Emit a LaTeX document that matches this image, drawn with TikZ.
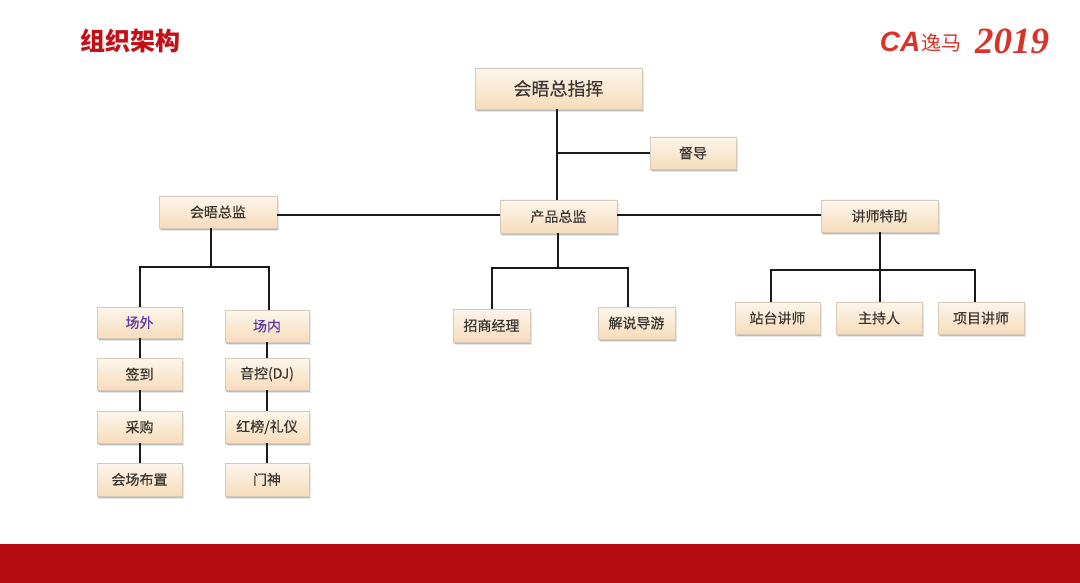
\documentclass[tikz,border=0pt]{standalone}
\usepackage{fontspec}
\setmainfont{Noto Sans CJK SC}
\newfontfamily\labelfont[FakeBold=0.35]{Noto Sans CJK SC}
\newfontfamily\brandsans{Liberation Sans}
\newfontfamily\brandserif{Liberation Serif}
\usetikzlibrary{shadows,calc}
\definecolor{boxtop}{HTML}{FCF6EC}
\definecolor{boxbot}{HTML}{F7DCBB}
\definecolor{boxline}{HTML}{D5CABA}
\definecolor{inktext}{HTML}{3A3530}
\definecolor{brandred}{HTML}{B70D12}
\definecolor{titlered}{HTML}{C40F18}
\definecolor{logored}{HTML}{D8342B}
\definecolor{purpletext}{HTML}{6238A8}
\tikzset{
  softshadow/.style={
    drop shadow={shadow xshift=1.6pt,shadow yshift=-3pt,fill=black,opacity=0.10},
    drop shadow={shadow xshift=1pt,shadow yshift=-2.2pt,fill=black,opacity=0.18},
    drop shadow={shadow xshift=0.5pt,shadow yshift=-1.2pt,fill=black,opacity=0.25}},
  orgbox/.style={softshadow,draw=boxline,line width=0.8pt,top color=boxtop,bottom color=boxbot,
    inner sep=0pt,text=inktext,font=\labelfont\fontsize{14}{14}\selectfont},
  sz/.style 2 args={minimum width=#1pt,minimum height=#2pt},
  link/.style={draw=black!90,line width=1.7pt},
  purple label/.style={text=purpletext},
  logotext/.style={text=logored,inner sep=0pt}
}
\begin{document}
\begin{tikzpicture}[x=1pt,y=-1pt]
\useasboundingbox (0,0) rectangle (1080,583);
\fill[white] (0,0) rectangle (1080,583);
\fill[brandred] (0,544) rectangle (1080,583);
\node[text=titlered,inner sep=0pt,font=\fontsize{25}{25}\selectfont\bfseries] (title) at (130.5,41) {组织架构};
% logo
\node[logotext,font=\brandsans\fontsize{28}{28}\selectfont\bfseries\itshape] (logoca) at (900,42) {CA};
\node[logotext,font=\fontsize{20}{20}\selectfont] (logoym) at (941.5,43) {逸马};
\node[logotext,font=\brandserif\fontsize{37}{37}\selectfont\bfseries\itshape] (logoyear) at (1012,41) {2019};
% boxes
\node[orgbox,sz={167}{41},font=\labelfont\fontsize{18}{18}\selectfont] (chief) at (558.5,88.5) {会晤总指挥};
\node[orgbox,sz={86}{32}] (supervise) at (693,153) {督导};
\node[orgbox,sz={117}{33}] (product) at (558.5,216.5) {产品总监};
\node[orgbox,sz={118}{32}] (director) at (218,212) {会晤总监};
\node[orgbox,sz={117}{32}] (assistant) at (879.5,216) {讲师特助};
\node[orgbox,sz={85}{31},purple label] (outside) at (139.5,322.5) {场外};
\node[orgbox,sz={84}{32},purple label] (inside) at (267,326) {场内};
\node[orgbox,sz={85}{32}] (signin) at (139.5,374) {签到};
\node[orgbox,sz={85}{32}] (purchase) at (139.5,427) {采购};
\node[orgbox,sz={85}{33}] (venue) at (139.5,479.5) {会场布置};
\node[orgbox,sz={84}{32}] (sound) at (267,374) {音控(DJ)};
\node[orgbox,sz={84}{32}] (etiquette) at (267,427) {红榜/礼仪};
\node[orgbox,sz={84}{33}] (door) at (267,479.5) {门神};
\node[orgbox,sz={77}{33}] (invest) at (491.5,325.5) {招商经理};
\node[orgbox,sz={77}{32}] (guide) at (636.5,323) {解说导游};
\node[orgbox,sz={85}{32}] (lecturer) at (777.5,318) {站台讲师};
\node[orgbox,sz={86}{32}] (host) at (879,318) {主持人};
\node[orgbox,sz={86}{32}] (project) at (981,318) {项目讲师};
% junctions
\coordinate (jchief) at (557,153);
\coordinate (jd) at (211,267);
\coordinate (jdl) at (140,267);
\coordinate (jdr) at (269,267);
\coordinate (jleft) at (140,400);
\coordinate (jright) at (267,400);
\coordinate (jp) at (558,268);
\coordinate (jpl) at (492,268);
\coordinate (jpr) at (628,268);
\coordinate (ja) at (880,270);
\coordinate (jal) at (771,270);
\coordinate (jar) at (975,270);
% connectors
\draw[link] (chief.south -| jchief) -- (product.north -| jchief);
\draw[link] (jchief) -- (supervise.west |- jchief);
\draw[link] (director.east |- 0,215) -- (product.west |- 0,215);
\draw[link] (product.east |- 0,215) -- (assistant.west |- 0,215);
\draw[link] (director.south -| jd) -- (jd);
\draw[link,line cap=rect] (jdl) -- (jdr);
\draw[link] (jdl) -- (outside.north -| jdl);
\draw[link] (jdr) -- (inside.north -| jdr);
\draw[link] (outside.south -| jleft) -- (signin.north -| jleft);
\draw[link] (signin.south -| jleft) -- (purchase.north -| jleft);
\draw[link] (purchase.south -| jleft) -- (venue.north -| jleft);
\draw[link] (inside.south -| jright) -- (sound.north -| jright);
\draw[link] (sound.south -| jright) -- (etiquette.north -| jright);
\draw[link] (etiquette.south -| jright) -- (door.north -| jright);
\draw[link] (product.south -| jp) -- (jp);
\draw[link,line cap=rect] (jpl) -- (jpr);
\draw[link] (jpl) -- (invest.north -| jpl);
\draw[link] (jpr) -- (guide.north -| jpr);
\draw[link] (assistant.south -| ja) -- (ja);
\draw[link,line cap=rect] (jal) -- (jar);
\draw[link] (jal) -- (lecturer.north -| jal);
\draw[link] (ja) -- (host.north -| ja);
\draw[link] (jar) -- (project.north -| jar);
\end{tikzpicture}
\end{document}
